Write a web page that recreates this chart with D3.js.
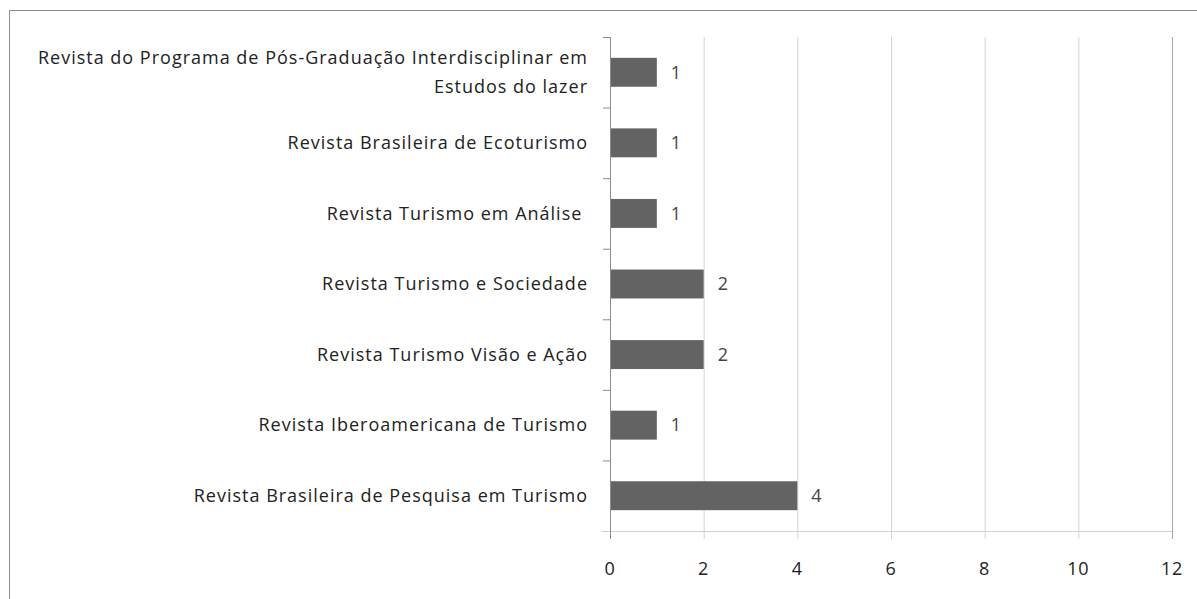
<!DOCTYPE html>
<html>
<head>
<meta charset="utf-8">
<script src="https://cdn.jsdelivr.net/npm/d3@7.9.0/dist/d3.min.js"></script>
<style>
  body { margin: 0; background: #fff; }
  text { font-family: "Open Sans", "Noto Sans", sans-serif; fill: #222; white-space: pre; }
</style>
</head>
<body>
<svg id="chart" width="1197" height="599"></svg>
<script>
// --- Data (top to bottom) ---
const journals = [
  ['Revista do Programa de Pós-Graduação Interdisciplinar em', 'Estudos do lazer'],
  ['Revista Brasileira de Ecoturismo'],
  ['Revista Turismo em Análise '],
  ['Revista Turismo e Sociedade'],
  ['Revista Turismo Visão e Ação'],
  ['Revista Iberoamericana de Turismo'],
  ['Revista Brasileira de Pesquisa em Turismo']
];
const counts = [1, 1, 1, 2, 2, 1, 4];
const xTicks = [0, 2, 4, 6, 8, 10, 12];

const svg = d3.select('#chart');
const plotL = 610, plotR = 1172, plotT = 37, plotB = 531;

// outer chart border
svg.append('rect')
  .attr('x', 9.5).attr('y', 10.5)
  .attr('width', 1300).attr('height', 700)
  .attr('fill', 'none').attr('stroke', '#8c8c8c');

const x = d3.scaleLinear().domain([0, 12]).range([plotL, plotR]);
const y = d3.scaleBand().domain(d3.range(journals.length)).range([plotT, plotB]).paddingInner(0.59).paddingOuter(0.295);
const yb = d3.scaleBand().domain(d3.range(journals.length)).range([plotT, plotB]);

// gridlines
svg.append('g').selectAll('line')
  .data(xTicks.slice(1))
  .join('line')
    .attr('x1', d => x(d) + 0.5).attr('x2', d => x(d) + 0.5)
    .attr('y1', plotT).attr('y2', plotB + 8)
    .attr('stroke', d => d === 12 ? '#a8a8a8' : '#d4d4d4');

// x axis line
svg.append('line')
  .attr('x1', plotL - 8).attr('x2', plotR)
  .attr('y1', plotB + 0.5).attr('y2', plotB + 0.5)
  .attr('stroke', '#d0d0d0');

// bars
svg.append('g').selectAll('rect')
  .data(counts)
  .join('rect')
    .attr('x', plotL)
    .attr('y', (d, i) => y(i))
    .attr('width', d => x(d) - plotL)
    .attr('height', y.bandwidth())
    .attr('fill', '#636363');

// y axis line + category ticks
svg.append('line')
  .attr('x1', plotL + 0.5).attr('x2', plotL + 0.5)
  .attr('y1', plotT).attr('y2', plotB + 8)
  .attr('stroke', '#8c8c8c');
svg.append('g').selectAll('line')
  .data(d3.range(journals.length))
  .join('line')
    .attr('x1', plotL - 7).attr('x2', plotL)
    .attr('y1', d => yb(d) + 0.5).attr('y2', d => yb(d) + 0.5)
    .attr('stroke', '#8c8c8c');

// x tick labels
svg.append('g').selectAll('text')
  .data(xTicks)
  .join('text')
    .attr('x', d => x(d))
    .attr('y', 575)
    .attr('text-anchor', 'middle')
    .style('font-size', '18px')
    .style('letter-spacing', '0.8px')
    .text(d => d);

// category labels
const lab = svg.append('g').selectAll('text')
  .data(journals)
  .join('text')
    .attr('x', 588)
    .attr('y', (d, i) => yb(i) + yb.bandwidth() / 2)
    .attr('text-anchor', 'end')
    .style('font-size', '18px')
    .style('letter-spacing', '1px');
lab.each(function(lines) {
  const t = d3.select(this);
  const n = lines.length;
  lines.forEach((s, k) => {
    t.append('tspan')
      .attr('x', 588)
      .attr('dy', k === 0 ? ((-(n - 1) * 1.65) / 2 + 0.35) + 'em' : '1.65em')
      .text(s);
  });
});

// value labels
svg.append('g').selectAll('text')
  .data(counts)
  .join('text')
    .attr('x', d => x(d) + 14)
    .attr('y', (d, i) => yb(i) + yb.bandwidth() / 2)
    .attr('dy', '0.35em')
    .style('font-size', '18px')
    .style('fill', '#444')
    .text(d => d);
</script>
</body>
</html>
